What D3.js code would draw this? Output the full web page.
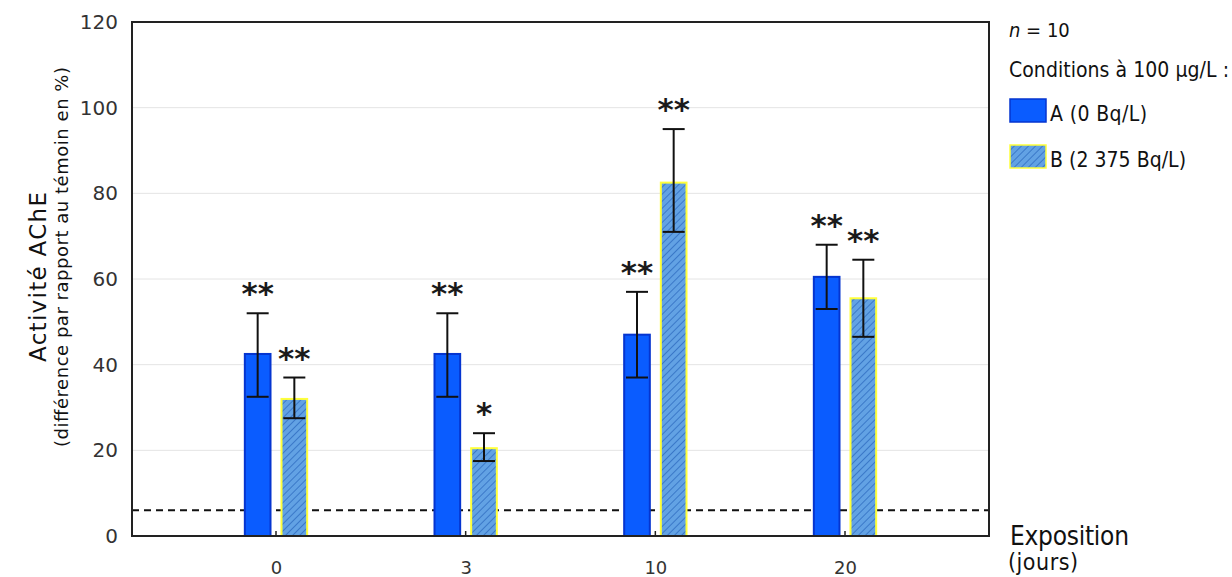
<!DOCTYPE html>
<html>
<head>
<meta charset="utf-8">
<script src="https://cdn.jsdelivr.net/npm/d3@7/dist/d3.min.js"></script>
<style>
html,body{margin:0;padding:0;background:#fff;}
svg{display:block;font-family:"DejaVu Sans",Verdana,sans-serif;}
.cond{font-family:"DejaVu Sans Condensed","DejaVu Sans",sans-serif;font-stretch:condensed;}
</style>
</head>
<body>
<svg id="chart" width="1232" height="577"></svg>
<script>
// ---- data ----
const categories = ["0", "3", "10", "20"];
const seriesNames = ["A (0 Bq/L)", "B (2 375 Bq/L)"];
const valuesA = [42.5, 42.5, 47, 60.5];
const errHighA = [52, 52, 57, 68];
const errLowA = [32.5, 32.5, 37, 53];
const valuesB = [32, 20.5, 82.5, 55.5];
const errHighB = [37, 24, 95, 64.5];
const errLowB = [27.5, 17.5, 71, 46.5];
const starsA = ["**", "**", "**", "**"];
const starsB = ["**", "*", "**", "**"];
const yTicks = [0, 20, 40, 60, 80, 100, 120];
const thresholdValue = 6;

(function () {
const FONT = "DejaVu Sans, Verdana, sans-serif";
const svg = d3.select("#chart");
const mLeft = 132, mRight = 989, mTop = 22, mBottom = 536;

const y = d3.scaleLinear().domain([0, 120]).range([mBottom, mTop]);
const x = d3.scalePoint().domain(categories).range([276, 845]);
const sub = d3.scaleBand().domain(seriesNames).range([-33, 33]).paddingInner(0.3).paddingOuter(0.05);
const bw = sub.bandwidth();

// pattern for hatched bars
const defs = svg.append("defs");
const pat = defs.append("pattern").attr("id", "hatch").attr("patternUnits", "userSpaceOnUse")
  .attr("width", 5).attr("height", 5).attr("patternTransform", "rotate(45)");
pat.append("rect").attr("width", 5).attr("height", 5).attr("fill", "#62a2e4");
pat.append("line").attr("x1", 0).attr("y1", 0).attr("x2", 0).attr("y2", 5)
  .attr("stroke", "#3a78c8").attr("stroke-width", 2);

// gridlines
svg.append("g").selectAll("line").data(yTicks.filter(d => d > 0 && d < 120)).join("line")
  .attr("x1", mLeft).attr("x2", mRight).attr("y1", d => y(d)).attr("y2", d => y(d))
  .attr("stroke", "#e4e4e4").attr("stroke-width", 1);

// y axis labels
const yAxis = d3.axisLeft(y).tickValues(yTicks).tickSize(0).tickPadding(14);
const gy = svg.append("g").attr("transform", `translate(${mLeft},0)`).call(yAxis);
gy.select(".domain").remove();
gy.selectAll("text").attr("font-size", 20).attr("fill", "#333").attr("font-family", FONT);

// x axis labels
const xAxis = d3.axisBottom(x).tickSize(0).tickPadding(25);
const gx = svg.append("g").attr("transform", `translate(0,${mBottom})`).call(xAxis);
gx.select(".domain").remove();
gx.selectAll("text").attr("font-size", 18).attr("fill", "#333").attr("font-family", FONT);
// small inward ticks
svg.append("g").selectAll("line").data(categories).join("line")
  .attr("x1", d => x(d)).attr("x2", d => x(d)).attr("y1", mBottom).attr("y2", mBottom - 5)
  .attr("stroke", "#222").attr("stroke-width", 1.5);

// threshold dashed line
svg.append("line").attr("x1", mLeft).attr("x2", mRight)
  .attr("y1", y(thresholdValue)).attr("y2", y(thresholdValue))
  .attr("stroke", "#111").attr("stroke-width", 2).attr("stroke-dasharray", "7,5");

// bars
const dataA = categories.map((c, i) => ({c, v: valuesA[i], hi: errHighA[i], lo: errLowA[i], s: starsA[i]}));
const dataB = categories.map((c, i) => ({c, v: valuesB[i], hi: errHighB[i], lo: errLowB[i], s: starsB[i]}));

function drawSeries(data, name, fill, stroke) {
  const g = svg.append("g");
  g.selectAll("rect").data(data).join("rect")
    .attr("x", d => x(d.c) + sub(name))
    .attr("y", d => y(d.v))
    .attr("width", bw)
    .attr("height", d => y(0) - y(d.v))
    .attr("fill", fill).attr("stroke", stroke).attr("stroke-width", 2);
  const cx = d => x(d.c) + sub(name) + bw / 2;
  g.selectAll("line.err").data(data).join("line").attr("class", "err")
    .attr("x1", cx).attr("x2", cx).attr("y1", d => y(d.hi)).attr("y2", d => y(d.lo))
    .attr("stroke", "#111").attr("stroke-width", 2);
  ["hi", "lo"].forEach(k => {
    g.selectAll("line.cap" + k).data(data).join("line").attr("class", "cap" + k)
      .attr("x1", d => cx(d) - 11).attr("x2", d => cx(d) + 11)
      .attr("y1", d => y(d[k])).attr("y2", d => y(d[k]))
      .attr("stroke", "#111").attr("stroke-width", 2);
  });
  g.selectAll("text").data(data).join("text")
    .attr("x", cx).attr("y", d => y(d.hi) - 9)
    .attr("text-anchor", "middle").attr("font-size", 31).attr("font-weight", "bold").attr("fill", "#1a1a1a")
    .attr("font-family", FONT)
    .text(d => d.s);
}
drawSeries(dataA, seriesNames[0], "#0a5cff", "#0535d0");
drawSeries(dataB, seriesNames[1], "url(#hatch)", "#ffff3a");

// frame
svg.append("rect").attr("x", mLeft).attr("y", mTop).attr("width", mRight - mLeft).attr("height", mBottom - mTop)
  .attr("fill", "none").attr("stroke", "#222").attr("stroke-width", 2);

// y axis title
svg.append("text").attr("transform", `translate(46,277) rotate(-90)`)
  .attr("text-anchor", "middle").attr("fill", "#111").attr("font-family", FONT)
  .attr("font-size", 23).attr("textLength", 170).attr("lengthAdjust", "spacing").text("Activité AChE");
svg.append("text").attr("transform", `translate(68,257) rotate(-90)`)
  .attr("text-anchor", "middle").attr("fill", "#111").attr("font-family", FONT)
  .attr("font-size", 18).attr("textLength", 380).attr("lengthAdjust", "spacing").text("(différence par rapport au témoin en %)");

// x axis title
svg.append("text").attr("class", "cond").attr("x", 1010).attr("y", 545).attr("font-size", 26).attr("fill", "#111")
  .attr("textLength", 119).attr("lengthAdjust", "spacing").text("Exposition");
svg.append("text").attr("class", "cond").attr("x", 1008).attr("y", 570).attr("font-size", 23).attr("fill", "#111")
  .attr("textLength", 70).attr("lengthAdjust", "spacing").text("(jours)");

// legend
const n = svg.append("text").attr("class", "cond").attr("x", 1009).attr("y", 37).attr("font-size", 20).attr("fill", "#111");
n.append("tspan").attr("font-style", "italic").text("n");
n.append("tspan").text(" = 10");
svg.append("text").attr("class", "cond").attr("x", 1009).attr("y", 77).attr("font-size", 21).attr("fill", "#111")
  .attr("textLength", 220).attr("lengthAdjust", "spacing").text("Conditions à 100 µg/L :");
const leg = svg.append("g");
const legFills = [["#0a5cff", "#0535d0"], ["url(#hatch)", "#ffff3a"]];
const legLen = [97, 136];
seriesNames.forEach((s, i) => {
  const yy = 99 + i * 46;
  leg.append("rect").attr("x", 1010).attr("y", yy).attr("width", 36).attr("height", 23)
    .attr("fill", legFills[i][0]).attr("stroke", legFills[i][1]).attr("stroke-width", 1.5);
  leg.append("text").attr("class", "cond").attr("x", 1050).attr("y", yy + 22).attr("font-size", 21).attr("fill", "#111")
    .attr("textLength", legLen[i]).attr("lengthAdjust", "spacing").text(s);
});
})();
</script>
</body>
</html>
